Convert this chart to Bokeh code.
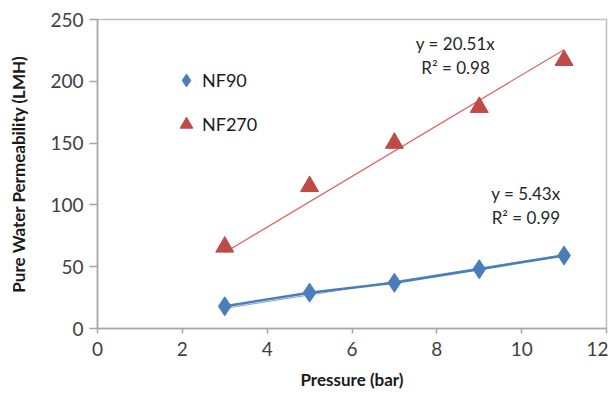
from bokeh.plotting import figure
from bokeh.models import Range1d, Label, Legend, LegendItem, FixedTicker
from bokeh.embed import file_html
from bokeh.resources import INLINE

pressure = [3, 5, 7, 9, 11]
nf90 = [18, 29, 37, 48, 59]
nf270 = [66, 115, 150, 179, 217]
fit_x = [3, 11]
nf90_fit = [16.29, 59.73]
nf270_fit = [61.53, 225.61]
x_ticks = [0, 2, 4, 6, 8, 10, 12]
y_ticks = [0, 50, 100, 150, 200, 250]

FONT = "Lato"
BLUE = "#4a7ebb"
RED = "#be4b48"

p = figure(width=608, height=395, output_backend="svg", toolbar_location=None,
           x_range=Range1d(0, 12), y_range=Range1d(0, 250),
           min_border_left=97, min_border_right=2, min_border_top=19, min_border_bottom=67)
p.grid.visible = False
p.outline_line_color = "#bfbfbf"
p.outline_line_width = 1.5

for ax, ticks, label in ((p.xaxis[0], x_ticks, "Pressure (bar)"),
                         (p.yaxis[0], y_ticks, "Pure Water Permeability (LMH)")):
    ax.ticker = FixedTicker(ticks=ticks)
    ax.minor_tick_line_color = None
    ax.axis_line_color = "#a6a6a6"
    ax.axis_line_width = 1.5
    ax.major_tick_line_color = "#a6a6a6"
    ax.major_tick_line_width = 1.5
    ax.major_tick_in = 0
    ax.major_label_text_font = FONT
    ax.major_label_text_font_size = "19px"
    ax.major_label_text_color = "#404040"
    ax.axis_label = label
    ax.axis_label_text_font = FONT
    ax.axis_label_text_font_size = "17px"
    ax.axis_label_text_font_style = "bold"
    ax.axis_label_text_color = "#1a1a1a"

p.xaxis[0].major_tick_out = 5
p.xaxis[0].major_label_standoff = 8
p.xaxis[0].axis_label_standoff = 10
p.yaxis[0].major_tick_out = 8
p.yaxis[0].major_label_standoff = 6
p.yaxis[0].axis_label_standoff = 18

p.line(fit_x, nf270_fit, line_color="#e06060", line_width=1.2)
p.line(pressure, nf90, line_color=BLUE, line_width=2.5)
p.line(fit_x, nf90_fit, line_color=BLUE, line_width=1.0, line_alpha=0.7)
r1 = p.scatter(pressure, nf90, marker="diamond", size=19, fill_color=BLUE, line_color=BLUE)
r2 = p.scatter(pressure, nf270, marker="triangle", size=18, fill_color=RED, line_color=RED)

legend = Legend(items=[LegendItem(label="NF90", renderers=[r1]),
                       LegendItem(label="NF270", renderers=[r2])],
                location=(73, 188), border_line_color=None, background_fill_alpha=0,
                label_text_font=FONT, label_text_font_size="18px", label_text_color="#1a1a1a",
                spacing=12, padding=0, margin=0, glyph_width=32, glyph_height=32,
                label_standoff=-5)
p.add_layout(legend)

for txt, x, y in (("y = 20.51x", 8.44, 230.5), ("R\u00b2 = 0.98", 8.44, 211.5),
                  ("y = 5.43x", 10.1, 109), ("R\u00b2 = 0.99", 10.1, 90)):
    p.add_layout(Label(x=x, y=y, text=txt, text_align="center", text_baseline="middle",
                       text_font=FONT, text_font_size="17px", text_color="#262626"))

open("out.html", "w").write(file_html(p, INLINE))
